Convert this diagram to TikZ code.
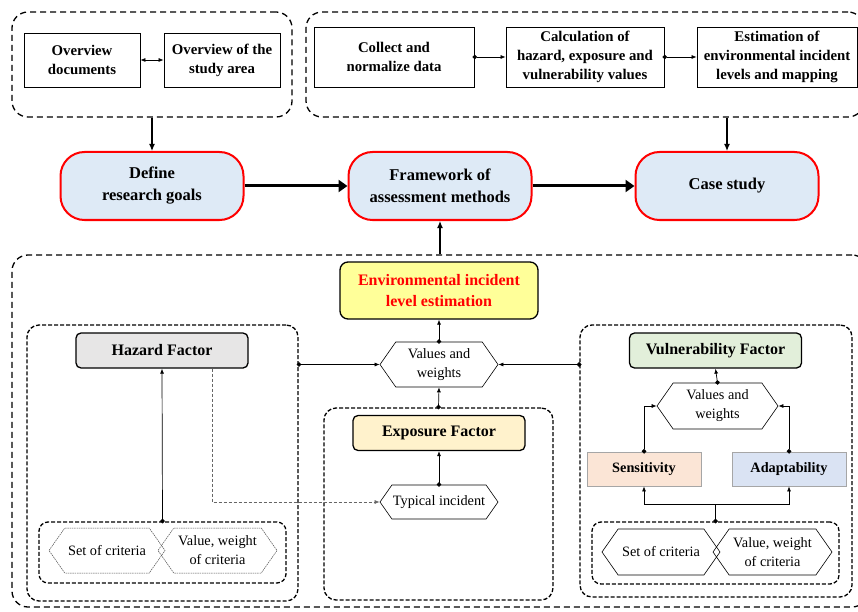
\documentclass[tikz,border=0pt]{standalone}
\usepackage{fontspec}
\setmainfont{Liberation Serif}
\usepackage{tikz}
\usetikzlibrary{arrows.meta,shapes.symbols,calc}

\definecolor{mainblue}{HTML}{DEEAF6}
\definecolor{hazgray}{HTML}{E7E6E6}
\definecolor{expyellow}{HTML}{FFF2CC}
\definecolor{vulgreen}{HTML}{E2EFDA}
\definecolor{senspink}{HTML}{FBE5D6}
\definecolor{adapblue}{HTML}{DAE3F3}
\definecolor{envyellow}{HTML}{FFFF99}

\tikzset{
  grp/.style={draw, line width=1.3pt, dash pattern=on 6pt off 4pt, rounded corners=16pt, inner sep=0pt},
  subgrp/.style={draw, line width=1.3pt, dash pattern=on 4pt off 2pt, rounded corners=12pt, inner sep=0pt},
  taskbox/.style={draw, line width=0.8pt, align=center, inner sep=0pt,
    font=\fontsize{14.8}{19}\selectfont\bfseries},
  mainbox/.style={draw=red, line width=2pt, fill=mainblue, rounded corners=24pt, align=center,
    minimum width=183pt, minimum height=68pt, font=\fontsize{16.5}{22}\selectfont\bfseries},
  factor/.style={draw, line width=1.3pt, rounded corners=5pt, minimum width=172pt, minimum height=35pt,
    inner sep=0pt, font=\fontsize{16}{18}\selectfont\bfseries},
  subfactor/.style={draw=gray!70, line width=0.8pt, minimum width=114pt, minimum height=34pt,
    inner sep=0pt, font=\fontsize{14.3}{16}\selectfont\bfseries},
  hexa/.style={signal, signal to=west and east, signal pointer angle=110, draw, line width=0.6pt,
    align=center, inner sep=0pt, font=\fontsize{14.3}{19}\selectfont},
  dothexa/.style={hexa, draw=black!70, line width=0.5pt, dash pattern=on 1.5pt off 0.8pt},
  link/.style={line width=0.7pt, -{Latex[length=5pt,width=4pt]}},
  dotlink/.style={line width=0.7pt, {Circle[length=4.5pt]}-{Latex[length=5pt,width=4pt]}, shorten <=-2pt},
  bigarrow/.style={line width=3pt, -{Triangle[length=9pt,width=12pt]}}
}

\begin{document}
\begin{tikzpicture}[x=1pt, y=-1pt]
  \useasboundingbox (0,0) rectangle (858,612);

  % upper groups
  \node[grp, minimum width=280pt, minimum height=105pt] (topL) at (152,64.5) {};
  \node[grp, minimum width=558pt, minimum height=105pt] (topR) at (585,64.5) {};
  \node[taskbox, minimum width=116pt, minimum height=54pt] (ovd) at (82,60) {Overview\\documents};
  \node[taskbox, minimum width=116pt, minimum height=54pt] (ova) at (222,60) {Overview of the\\study area};
  \node[taskbox, minimum width=160pt, minimum height=60pt] (col) at (394,57) {Collect and\\normalize data};
  \node[taskbox, minimum width=158pt, minimum height=60pt] (calc) at (585,57) {Calculation of\\hazard, exposure and\\vulnerability values};
  \node[taskbox, minimum width=160pt, minimum height=60pt] (est) at (777,57) {Estimation of\\environmental incident\\levels and mapping};
  \draw[line width=0.7pt, {Latex[length=5pt,width=4pt]}-{Latex[length=5pt,width=4pt]}] (ovd.east) -- (ova.west);
  \draw[dotlink] (col.east) -- (calc.west);
  \draw[dotlink] (calc.east) -- (est.west);

  % main row
  \node[mainbox] (define) at (152,186) {Define\\research goals};
  \node[mainbox] (frame) at (440,186) {Framework of\\assessment methods};
  \node[mainbox] (case) at (727,186) {Case study};
  \draw[line width=1.2pt, -{Latex[length=7pt,width=6pt]}] (topL.south -| define.north) -- (define.north);
  \draw[line width=1.2pt, -{Latex[length=7pt,width=6pt]}] (topR.south -| case.north) -- (case.north);
  \draw[bigarrow] (define.east) -- (frame.west);
  \draw[bigarrow] (frame.east) -- (case.west);

  % lower group
  \node[grp, minimum width=856pt, minimum height=352pt] (big) at (440,431) {};
  \draw[line width=1.2pt, -{Latex[length=7pt,width=6pt]}] (big.north -| frame.south) -- (frame.south);
  \node[draw, line width=1.3pt, fill=envyellow, rounded corners=8pt, minimum width=198pt, minimum height=57pt,
    align=center, inner sep=0pt, text=red, font=\fontsize{16}{21}\selectfont\bfseries] (env) at (439,290.5)
    {Environmental incident\\level estimation};
  \node[hexa, minimum width=118pt, minimum height=45pt] (vw) at (439,364.5) {Values and\\weights};
  \draw[dotlink] (vw.north) -- (env.south);

  % hazard
  \node[subgrp, minimum width=271pt, minimum height=276pt] (hazg) at (162.5,463) {};
  \node[factor, fill=hazgray] (hazf) at (162,350.5) {Hazard Factor};
  \node[subgrp, minimum width=247pt, minimum height=61pt, rounded corners=9pt] (hcrit) at (162.5,552.5) {};
  \node[dothexa, minimum width=116pt, minimum height=45pt] (hset) at (107,550.5) {Set of criteria};
  \node[dothexa, minimum width=119pt, minimum height=45pt] (hval) at (217.5,550.5) {Value, weight\\of criteria};
  \draw[dotlink] (hcrit.north) -- (hazf.south);
  \draw[dotlink] (vw.west -| hazg.east) -- (vw.west);

  % exposure
  \node[subgrp, minimum width=229pt, minimum height=192pt] (expg) at (438.5,504) {};
  \node[factor, fill=expyellow] (expf) at (439,433) {Exposure Factor};
  \node[hexa, minimum width=118pt, minimum height=34pt] (typ) at (439,502) {Typical incident};
  \draw[dotlink] (expg.north) -- (vw.south);
  \draw[dotlink] (typ.north) -- (expf.south);
  \draw[line width=0.7pt, draw=black!60, dash pattern=on 3pt off 2pt, -{Latex[length=5pt,width=4pt]}]
    ([xshift=50pt]hazf.south) |- (typ.west);

  % vulnerability
  \node[subgrp, minimum width=272pt, minimum height=272pt] (vulg) at (716,461) {};
  \node[factor, fill=vulgreen] (vulf) at (715.5,350.5) {Vulnerability Factor};
  \node[hexa, minimum width=121pt, minimum height=46pt] (vwh) at (717.5,406) {Values and\\weights};
  \node[subfactor, fill=senspink] (sens) at (644,469) {Sensitivity};
  \node[subfactor, fill=adapblue] (adap) at (789,469) {Adaptability};
  \node[subgrp, minimum width=247pt, minimum height=62pt, rounded corners=9pt] (vcrit) at (715.5,553) {};
  \node[hexa, minimum width=118pt, minimum height=46pt] (vset) at (661,552) {Set of criteria};
  \node[hexa, minimum width=119pt, minimum height=46pt] (vval) at (772.5,552) {Value, weight\\of criteria};
  \draw[dotlink] (vw.east -| vulg.west) -- (vw.east);
  \draw[dotlink] (vwh.north) -- (vulf.south);
  \draw[dotlink] (sens.north) |- (vwh.west);
  \draw[dotlink] (adap.north) |- (vwh.east);
  \draw[line width=0.7pt, {Circle[length=4.5pt]}-, shorten <=-2pt] (vcrit.north) -- ++(0,-17) coordinate (split);
  \draw[link] (split) -| (sens.south);
  \draw[link] (split) -| (adap.south);
\end{tikzpicture}
\end{document}
